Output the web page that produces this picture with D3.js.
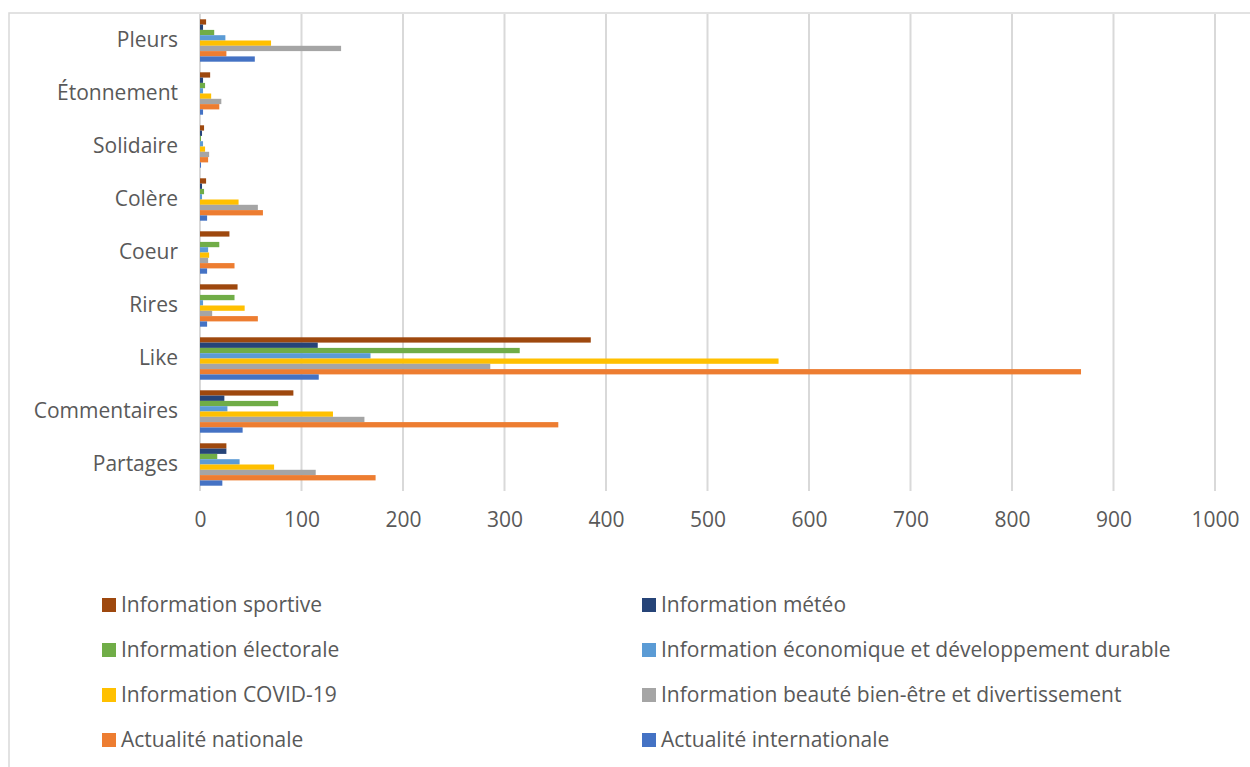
<!DOCTYPE html>
<html>
<head>
<meta charset="utf-8">
<script src="https://cdn.jsdelivr.net/npm/d3@7"></script>
<style>
  html, body { margin: 0; padding: 0; background: #fff; }
  svg { display: block; }
  text { font-family: "Open Sans", "Noto Sans", sans-serif; fill: #595959; }
</style>
</head>
<body>
<svg id="chart" width="1250" height="767"></svg>
<script>
const categories = ["Pleurs", "Étonnement", "Solidaire", "Colère", "Coeur", "Rires", "Like", "Commentaires", "Partages"];
const seriesNames = [
  "Information sportive",
  "Information météo",
  "Information électorale",
  "Information économique et développement durable",
  "Information COVID-19",
  "Information beauté bien-être et divertissement",
  "Actualité nationale",
  "Actualité internationale"
];
const seriesColors = ["#9E480E", "#264478", "#70AD47", "#5B9BD5", "#FFC000", "#A5A5A5", "#ED7D31", "#4472C4"];
// values per series, in category order (Pleurs ... Partages)
const sportive       = [6, 10, 4, 6, 29, 37, 385, 92, 26];
const meteo          = [3, 3, 2, 2, 0, 0, 116, 24, 26];
const electorale     = [14, 5, 1, 4, 19, 34, 315, 77, 17];
const economique     = [25, 3, 3, 2, 8, 3, 168, 27, 39];
const covid          = [70, 11, 5, 38, 9, 44, 570, 131, 73];
const beaute         = [139, 21, 9, 57, 8, 12, 286, 162, 114];
const nationale      = [26, 19, 8, 62, 34, 57, 868, 353, 173];
const internationale = [54, 3, 1, 7, 7, 7, 117, 42, 22];
const seriesValues = [sportive, meteo, electorale, economique, covid, beaute, nationale, internationale];
const xTicks = [0, 100, 200, 300, 400, 500, 600, 700, 800, 900, 1000];

const FONT = '"Open Sans", "Noto Sans", sans-serif';
const FS = "21px";
const svg = d3.select("#chart");

// outer chart border
svg.append("rect")
  .attr("x", 9).attr("y", 13).attr("width", 1300).attr("height", 800)
  .attr("fill", "none").attr("stroke", "#d9d9d9").attr("stroke-width", 1.5);

const x = d3.scaleLinear().domain([0, 1000]).range([200, 1215]);
const y = d3.scaleBand().domain(categories).range([14, 491]).paddingInner(0.2).paddingOuter(0.1);
const yInner = d3.scaleBand().domain(d3.range(seriesNames.length)).range([0, y.bandwidth()]);

// gridlines
svg.append("g").selectAll("line").data(xTicks).join("line")
  .attr("x1", d => x(d)).attr("x2", d => x(d))
  .attr("y1", 14).attr("y2", 491)
  .attr("stroke", "#d9d9d9").attr("stroke-width", 2);

// bars
const groups = svg.append("g").selectAll("g").data(seriesValues).join("g")
  .attr("fill", (d, i) => seriesColors[i]);
groups.selectAll("rect").data((vals, si) => vals.map((v, ci) => ({v, si, c: categories[ci]})))
  .join("rect")
  .attr("x", x(0))
  .attr("y", d => y(d.c) + yInner(d.si))
  .attr("width", d => x(d.v) - x(0))
  .attr("height", yInner.bandwidth());

// x axis labels
const xAxis = svg.append("g").attr("transform", "translate(0,491)")
  .call(d3.axisBottom(x).tickValues(xTicks).tickSize(0).tickPadding(21).tickFormat(d3.format("d")));
xAxis.select(".domain").remove();
xAxis.selectAll("text").style("font-size", FS).attr("fill", "#595959").style("font-family", FONT);

// y axis labels
const yAxis = svg.append("g").attr("transform", "translate(200,0)")
  .call(d3.axisLeft(y).tickSize(0).tickPadding(22));
yAxis.select(".domain").remove();
yAxis.selectAll("text").style("font-size", FS).attr("fill", "#595959").style("font-family", FONT);

// legend
const legendCols = [102, 642];
const legendRows = [605, 650, 695, 740];
const legend = svg.append("g").selectAll("g").data(seriesNames).join("g")
  .attr("transform", (d, i) => `translate(${legendCols[i % 2]},${legendRows[Math.floor(i / 2)]})`);
legend.append("rect")
  .attr("x", 0).attr("y", -7).attr("width", 14).attr("height", 14)
  .attr("fill", (d, i) => seriesColors[i]);
legend.append("text")
  .attr("x", 19).attr("y", 0).attr("dy", "0.35em")
  .style("font-size", FS)
  .text(d => d);
</script>
</body>
</html>
